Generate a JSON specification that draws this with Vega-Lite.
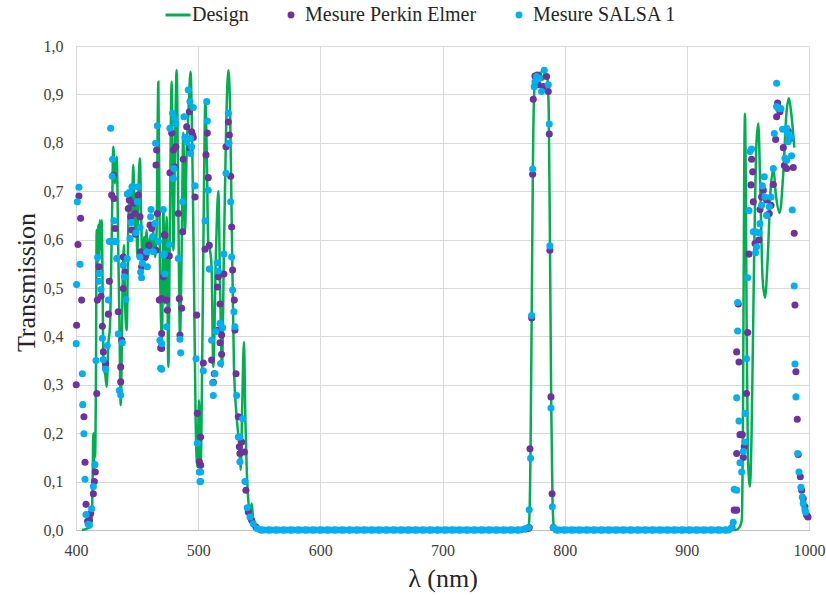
{
  "$schema": "https://vega.github.io/schema/vega-lite/v6.json",
  "autosize": {"type": "none"},
  "width": 733,
  "height": 484,
  "padding": {"left": 76, "top": 46, "right": 17, "bottom": 65},
  "background": "white",
  "config": {
    "font": "Liberation Serif",
    "view": {"stroke": null},
    "axis": {"labelFont": "Liberation Serif", "titleFont": "Liberation Serif", "labelColor": "#404040", "titleColor": "#262626", "gridColor": "#d9d9d9", "titleFontWeight": "normal"},
    "legend": {"labelFont": "Liberation Serif"}
  },
  "datasets": {
    "design": [
      {"x":405,"y":0,"s":"D"},{"x":409,"y":0.003,"s":"D"},{"x":411.5,"y":0.006,"s":"D"},{"x":413,"y":0.03,"s":"D"},{"x":413.6,"y":0.1,"s":"D"},{"x":414.2,"y":0.2,"s":"D"},{"x":414.7,"y":0.12,"s":"D"},{"x":415.2,"y":0.2,"s":"D"},{"x":415.6,"y":0.15,"s":"D"},{"x":416.4,"y":0.35,"s":"D"},{"x":416.9,"y":0.62,"s":"D"},{"x":417.6,"y":0.55,"s":"D"},{"x":418.3,"y":0.63,"s":"D"},{"x":419,"y":0.56,"s":"D"},{"x":419.6,"y":0.64,"s":"D"},{"x":420.3,"y":0.58,"s":"D"},{"x":421,"y":0.64,"s":"D"},{"x":421.8,"y":0.5,"s":"D"},{"x":422.4,"y":0.337,"s":"D"},{"x":424,"y":0.32,"s":"D"},{"x":425.1,"y":0.296,"s":"D"},{"x":426.5,"y":0.385,"s":"D"},{"x":427.8,"y":0.42,"s":"D"},{"x":429.2,"y":0.6,"s":"D"},{"x":430.6,"y":0.792,"s":"D"},{"x":431.9,"y":0.716,"s":"D"},{"x":433.3,"y":0.771,"s":"D"},{"x":434.6,"y":0.578,"s":"D"},{"x":435.5,"y":0.44,"s":"D"},{"x":436.6,"y":0.258,"s":"D"},{"x":438.2,"y":0.51,"s":"D"},{"x":439.3,"y":0.589,"s":"D"},{"x":440.1,"y":0.475,"s":"D"},{"x":441.5,"y":0.413,"s":"D"},{"x":442.8,"y":0.626,"s":"D"},{"x":444.2,"y":0.7,"s":"D"},{"x":445.6,"y":0.647,"s":"D"},{"x":446.9,"y":0.754,"s":"D"},{"x":448.3,"y":0.613,"s":"D"},{"x":449.1,"y":0.695,"s":"D"},{"x":450.2,"y":0.564,"s":"D"},{"x":451.3,"y":0.716,"s":"D"},{"x":452.4,"y":0.768,"s":"D"},{"x":453.2,"y":0.661,"s":"D"},{"x":454.6,"y":0.551,"s":"D"},{"x":455.7,"y":0.606,"s":"D"},{"x":456.7,"y":0.578,"s":"D"},{"x":457.8,"y":0.62,"s":"D"},{"x":459.2,"y":0.564,"s":"D"},{"x":460.6,"y":0.606,"s":"D"},{"x":461.9,"y":0.578,"s":"D"},{"x":463.3,"y":0.62,"s":"D"},{"x":464.7,"y":0.564,"s":"D"},{"x":466,"y":0.62,"s":"D"},{"x":467.4,"y":0.926,"s":"D"},{"x":468.7,"y":0.551,"s":"D"},{"x":469.5,"y":0.44,"s":"D"},{"x":470.4,"y":0.392,"s":"D"},{"x":471.5,"y":0.661,"s":"D"},{"x":472.8,"y":0.468,"s":"D"},{"x":474.2,"y":0.647,"s":"D"},{"x":475.6,"y":0.337,"s":"D"},{"x":476.9,"y":0.647,"s":"D"},{"x":478.3,"y":0.926,"s":"D"},{"x":479.7,"y":0.578,"s":"D"},{"x":481,"y":0.785,"s":"D"},{"x":482.4,"y":0.95,"s":"D"},{"x":483.8,"y":0.647,"s":"D"},{"x":485.1,"y":0.4,"s":"D"},{"x":486.5,"y":0.578,"s":"D"},{"x":487.8,"y":0.82,"s":"D"},{"x":489.2,"y":0.613,"s":"D"},{"x":490.6,"y":0.785,"s":"D"},{"x":491.9,"y":0.854,"s":"D"},{"x":493.8,"y":0.947,"s":"D"},{"x":495.2,"y":0.785,"s":"D"},{"x":496.6,"y":0.51,"s":"D"},{"x":497.9,"y":0.234,"s":"D"},{"x":499.3,"y":0.13,"s":"D"},{"x":500.7,"y":0.268,"s":"D"},{"x":502,"y":0.124,"s":"D"},{"x":503.4,"y":0.372,"s":"D"},{"x":504.8,"y":0.716,"s":"D"},{"x":505.9,"y":0.888,"s":"D"},{"x":507,"y":0.785,"s":"D"},{"x":508.3,"y":0.592,"s":"D"},{"x":509.7,"y":0.578,"s":"D"},{"x":511,"y":0.544,"s":"D"},{"x":512.4,"y":0.337,"s":"D"},{"x":514.6,"y":0.578,"s":"D"},{"x":516.5,"y":0.7,"s":"D"},{"x":517.9,"y":0.51,"s":"D"},{"x":519.5,"y":0.337,"s":"D"},{"x":521.1,"y":0.578,"s":"D"},{"x":522.8,"y":0.82,"s":"D"},{"x":524.7,"y":0.95,"s":"D"},{"x":526,"y":0.888,"s":"D"},{"x":527.4,"y":0.647,"s":"D"},{"x":529.3,"y":0.337,"s":"D"},{"x":531.5,"y":0.234,"s":"D"},{"x":533.7,"y":0.172,"s":"D"},{"x":534.8,"y":0.124,"s":"D"},{"x":536,"y":0.25,"s":"D"},{"x":537.5,"y":0.389,"s":"D"},{"x":538.6,"y":0.234,"s":"D"},{"x":539.7,"y":0.13,"s":"D"},{"x":541,"y":0.062,"s":"D"},{"x":542.4,"y":0.034,"s":"D"},{"x":543.8,"y":0.055,"s":"D"},{"x":545.1,"y":0.02,"s":"D"},{"x":547.9,"y":0.002,"s":"D"},{"x":550,"y":0,"s":"D"},
      {"x":770,"y":0,"s":"D"},{"x":771,"y":0.02,"s":"D"},{"x":772,"y":0.15,"s":"D"},{"x":773,"y":0.44,"s":"D"},{"x":774,"y":0.75,"s":"D"},{"x":775,"y":0.9,"s":"D"},{"x":776.5,"y":0.94,"s":"D"},{"x":778,"y":0.93,"s":"D"},{"x":780,"y":0.945,"s":"D"},{"x":782,"y":0.93,"s":"D"},{"x":784,"y":0.945,"s":"D"},{"x":786,"y":0.93,"s":"D"},{"x":787,"y":0.86,"s":"D"},{"x":788,"y":0.58,"s":"D"},{"x":789,"y":0.26,"s":"D"},{"x":790,"y":0.07,"s":"D"},{"x":791,"y":0.01,"s":"D"},{"x":792,"y":0,"s":"D"},
      {"x":940,"y":0,"s":"D"},{"x":943,"y":0.005,"s":"D"},{"x":945,"y":0.02,"s":"D"},{"x":946,"y":0.25,"s":"D"},{"x":947,"y":0.75,"s":"D"},{"x":947.6,"y":0.86,"s":"D"},{"x":948.3,"y":0.7,"s":"D"},{"x":949,"y":0.4,"s":"D"},{"x":950,"y":0.15,"s":"D"},{"x":951.7,"y":0.09,"s":"D"},{"x":953,"y":0.2,"s":"D"},{"x":955,"y":0.55,"s":"D"},{"x":957,"y":0.8,"s":"D"},{"x":958.5,"y":0.84,"s":"D"},{"x":960,"y":0.72,"s":"D"},{"x":962,"y":0.52,"s":"D"},{"x":964,"y":0.48,"s":"D"},{"x":966,"y":0.55,"s":"D"},{"x":968.5,"y":0.7,"s":"D"},{"x":970.8,"y":0.745,"s":"D"},{"x":973,"y":0.69,"s":"D"},{"x":976,"y":0.655,"s":"D"},{"x":979,"y":0.74,"s":"D"},{"x":981.5,"y":0.86,"s":"D"},{"x":983.6,"y":0.892,"s":"D"},{"x":985.5,"y":0.86,"s":"D"},{"x":988,"y":0.79,"s":"D"}
    ],
    "pts": [
      {"x":402.4,"y":0.69,"s":"P"},{"x":403.8,"y":0.644,"s":"P"},{"x":401.6,"y":0.59,"s":"P"},{"x":404.6,"y":0.475,"s":"P"},{"x":400.5,"y":0.423,"s":"P"},{"x":400.2,"y":0.3,"s":"P"},{"x":406.5,"y":0.234,"s":"P"},{"x":407.4,"y":0.14,"s":"P"},{"x":408.2,"y":0.053,"s":"P"},{"x":409.5,"y":0.018,"s":"P"},{"x":411,"y":0.02,"s":"P"},{"x":412,"y":0.034,"s":"P"},{"x":414.2,"y":0.075,"s":"P"},{"x":415,"y":0.1,"s":"P"},{"x":415.8,"y":0.12,"s":"P"},{"x":417,"y":0.282,"s":"P"},{"x":418.8,"y":0.544,"s":"P"},{"x":417.5,"y":0.475,"s":"P"},{"x":420.5,"y":0.483,"s":"P"},{"x":421.6,"y":0.421,"s":"P"},{"x":422.4,"y":0.368,"s":"P"},{"x":424.3,"y":0.344,"s":"P"},{"x":426.5,"y":0.446,"s":"P"},{"x":427.3,"y":0.514,"s":"P"},{"x":430.6,"y":0.733,"s":"P"},{"x":429.2,"y":0.692,"s":"P"},{"x":431.1,"y":0.685,"s":"P"},{"x":431.9,"y":0.623,"s":"P"},{"x":434.6,"y":0.451,"s":"P"},{"x":437.4,"y":0.392,"s":"P"},{"x":436.6,"y":0.337,"s":"P"},{"x":436.6,"y":0.306,"s":"P"},{"x":438.7,"y":0.564,"s":"P"},{"x":440.1,"y":0.533,"s":"P"},{"x":438.7,"y":0.499,"s":"P"},{"x":442.8,"y":0.664,"s":"P"},{"x":443.6,"y":0.682,"s":"P"},{"x":444.7,"y":0.647,"s":"P"},{"x":445.6,"y":0.62,"s":"P"},{"x":446.9,"y":0.675,"s":"P"},{"x":448.3,"y":0.654,"s":"P"},{"x":448.8,"y":0.611,"s":"P"},{"x":451,"y":0.692,"s":"P"},{"x":452.4,"y":0.647,"s":"P"},{"x":452.9,"y":0.575,"s":"P"},{"x":453.7,"y":0.544,"s":"P"},{"x":456.5,"y":0.563,"s":"P"},{"x":459.7,"y":0.588,"s":"P"},{"x":460.6,"y":0.63,"s":"P"},{"x":462,"y":0.623,"s":"P"},{"x":466.6,"y":0.654,"s":"P"},{"x":465.5,"y":0.578,"s":"P"},{"x":466,"y":0.785,"s":"P"},{"x":465.5,"y":0.754,"s":"P"},{"x":468.2,"y":0.475,"s":"P"},{"x":469.3,"y":0.376,"s":"P"},{"x":470.1,"y":0.406,"s":"P"},{"x":472.3,"y":0.61,"s":"P"},
      {"x":472.8,"y":0.609,"s":"P"},{"x":476.4,"y":0.566,"s":"P"},{"x":471.5,"y":0.523,"s":"P"},{"x":470.1,"y":0.478,"s":"P"},{"x":474.2,"y":0.475,"s":"P"},{"x":474.8,"y":0.454,"s":"P"},{"x":470.1,"y":0.375,"s":"P"},{"x":476.9,"y":0.738,"s":"P"},{"x":478.3,"y":0.82,"s":"P"},{"x":479.7,"y":0.785,"s":"P"},{"x":481,"y":0.75,"s":"P"},{"x":481.8,"y":0.792,"s":"P"},{"x":483.8,"y":0.654,"s":"P"},{"x":484.6,"y":0.478,"s":"P"},{"x":486.5,"y":0.458,"s":"P"},{"x":485.1,"y":0.403,"s":"P"},{"x":487.3,"y":0.616,"s":"P"},{"x":487.8,"y":0.766,"s":"P"},{"x":490,"y":0.809,"s":"P"},{"x":490.6,"y":0.833,"s":"P"},{"x":492.8,"y":0.864,"s":"P"},{"x":494.7,"y":0.823,"s":"P"},{"x":495.5,"y":0.816,"s":"P"},{"x":493.3,"y":0.788,"s":"P"},{"x":496,"y":0.811,"s":"P"},{"x":497.4,"y":0.688,"s":"P"},{"x":498.8,"y":0.444,"s":"P"},{"x":499.3,"y":0.241,"s":"P"},{"x":502,"y":0.192,"s":"P"},{"x":500.9,"y":0.141,"s":"P"},{"x":502,"y":0.134,"s":"P"},{"x":507.5,"y":0.82,"s":"P"},{"x":506.4,"y":0.775,"s":"P"},{"x":508.3,"y":0.728,"s":"P"},{"x":505.6,"y":0.58,"s":"P"},{"x":509.1,"y":0.588,"s":"P"},{"x":504.2,"y":0.345,"s":"P"},{"x":511,"y":0.351,"s":"P"},{"x":512.4,"y":0.305,"s":"P"},{"x":513.2,"y":0.323,"s":"P"},{"x":516.5,"y":0.523,"s":"P"},{"x":515.7,"y":0.502,"s":"P"},{"x":517.9,"y":0.467,"s":"P"},{"x":516.5,"y":0.413,"s":"P"},{"x":519.2,"y":0.403,"s":"P"},{"x":517.9,"y":0.387,"s":"P"},{"x":519.2,"y":0.363,"s":"P"},{"x":521.1,"y":0.529,"s":"P"},{"x":522.8,"y":0.792,"s":"P"},{"x":526.6,"y":0.731,"s":"P"},{"x":524.7,"y":0.843,"s":"P"},{"x":525.5,"y":0.816,"s":"P"},{"x":527.4,"y":0.626,"s":"P"},{"x":528.2,"y":0.537,"s":"P"},{"x":529.6,"y":0.475,"s":"P"},{"x":530.1,"y":0.413,"s":"P"},{"x":531,"y":0.323,"s":"P"},{"x":532.9,"y":0.234,"s":"P"},{"x":533.7,"y":0.172,"s":"P"},{"x":534.2,"y":0.158,"s":"P"},{"x":535.6,"y":0.182,"s":"P"},{"x":537.8,"y":0.161,"s":"P"},{"x":539.1,"y":0.082,"s":"P"},{"x":541,"y":0.037,"s":"P"},{"x":543.8,"y":0.02,"s":"P"},{"x":547.3,"y":0.006,"s":"P"},
      {"x":552,"y":0,"s":"P"},{"x":558,"y":0,"s":"P"},{"x":564,"y":0,"s":"P"},{"x":570,"y":0,"s":"P"},{"x":576,"y":0,"s":"P"},{"x":582,"y":0,"s":"P"},{"x":588,"y":0,"s":"P"},{"x":594,"y":0,"s":"P"},{"x":600,"y":0,"s":"P"},{"x":606,"y":0,"s":"P"},{"x":612,"y":0,"s":"P"},{"x":618,"y":0,"s":"P"},{"x":624,"y":0,"s":"P"},{"x":630,"y":0,"s":"P"},{"x":636,"y":0,"s":"P"},{"x":642,"y":0,"s":"P"},{"x":648,"y":0,"s":"P"},{"x":654,"y":0,"s":"P"},{"x":660,"y":0,"s":"P"},{"x":666,"y":0,"s":"P"},{"x":672,"y":0,"s":"P"},{"x":678,"y":0,"s":"P"},{"x":684,"y":0,"s":"P"},{"x":690,"y":0,"s":"P"},{"x":696,"y":0,"s":"P"},{"x":702,"y":0,"s":"P"},{"x":708,"y":0,"s":"P"},{"x":714,"y":0,"s":"P"},{"x":720,"y":0,"s":"P"},{"x":726,"y":0,"s":"P"},{"x":732,"y":0,"s":"P"},{"x":738,"y":0,"s":"P"},{"x":744,"y":0,"s":"P"},{"x":750,"y":0,"s":"P"},{"x":756,"y":0,"s":"P"},{"x":762,"y":0,"s":"P"},{"x":768,"y":0.002,"s":"P"},
      {"x":770.2,"y":0.003,"s":"P"},{"x":771,"y":0.005,"s":"P"},{"x":771.6,"y":0.168,"s":"P"},{"x":773,"y":0.438,"s":"P"},{"x":773.8,"y":0.735,"s":"P"},{"x":774.3,"y":0.89,"s":"P"},{"x":775.7,"y":0.938,"s":"P"},{"x":777.6,"y":0.94,"s":"P"},{"x":778.4,"y":0.92,"s":"P"},{"x":782.5,"y":0.916,"s":"P"},{"x":785.2,"y":0.937,"s":"P"},{"x":786.6,"y":0.906,"s":"P"},{"x":787.4,"y":0.818,"s":"P"},{"x":787.9,"y":0.578,"s":"P"},{"x":788.8,"y":0.275,"s":"P"},{"x":789.7,"y":0.075,"s":"P"},{"x":790.7,"y":0.005,"s":"P"},
      {"x":794,"y":0,"s":"P"},{"x":800,"y":0,"s":"P"},{"x":806,"y":0,"s":"P"},{"x":812,"y":0,"s":"P"},{"x":818,"y":0,"s":"P"},{"x":824,"y":0,"s":"P"},{"x":830,"y":0,"s":"P"},{"x":836,"y":0,"s":"P"},{"x":842,"y":0,"s":"P"},{"x":848,"y":0,"s":"P"},{"x":854,"y":0,"s":"P"},{"x":860,"y":0,"s":"P"},{"x":866,"y":0,"s":"P"},{"x":872,"y":0,"s":"P"},{"x":878,"y":0,"s":"P"},{"x":884,"y":0,"s":"P"},{"x":890,"y":0,"s":"P"},{"x":896,"y":0,"s":"P"},{"x":902,"y":0,"s":"P"},{"x":908,"y":0,"s":"P"},{"x":914,"y":0,"s":"P"},{"x":920,"y":0,"s":"P"},{"x":926,"y":0,"s":"P"},{"x":932,"y":0,"s":"P"},{"x":937,"y":0.005,"s":"P"},
      {"x":940.8,"y":0.368,"s":"P"},{"x":942.7,"y":0.347,"s":"P"},{"x":943.5,"y":0.197,"s":"P"},{"x":945.4,"y":0.197,"s":"P"},{"x":940.8,"y":0.158,"s":"P"},{"x":940.8,"y":0.041,"s":"P"},{"x":938.8,"y":0.041,"s":"P"},{"x":942.1,"y":0.467,"s":"P"},{"x":946.2,"y":0.15,"s":"P"},{"x":947,"y":0.172,"s":"P"},{"x":948.9,"y":0.282,"s":"P"},{"x":949.8,"y":0.408,"s":"P"},{"x":950.9,"y":0.57,"s":"P"},{"x":952.5,"y":0.713,"s":"P"},{"x":953,"y":0.766,"s":"P"},{"x":953.9,"y":0.74,"s":"P"},{"x":954.4,"y":0.678,"s":"P"},{"x":955.8,"y":0.592,"s":"P"},{"x":959,"y":0.599,"s":"P"},{"x":959.9,"y":0.662,"s":"P"},{"x":961.2,"y":0.688,"s":"P"},{"x":962.6,"y":0.702,"s":"P"},{"x":965.3,"y":0.682,"s":"P"},{"x":967.5,"y":0.654,"s":"P"},{"x":968.9,"y":0.671,"s":"P"},{"x":970.8,"y":0.714,"s":"P"},{"x":972.7,"y":0.807,"s":"P"},{"x":973.5,"y":0.854,"s":"P"},{"x":974.3,"y":0.882,"s":"P"},{"x":976.2,"y":0.864,"s":"P"},{"x":979,"y":0.79,"s":"P"},{"x":979.8,"y":0.753,"s":"P"},{"x":983,"y":0.824,"s":"P"},{"x":984.4,"y":0.809,"s":"P"},{"x":987.1,"y":0.749,"s":"P"},{"x":981.7,"y":0.747,"s":"P"},{"x":987.9,"y":0.613,"s":"P"},{"x":988.5,"y":0.465,"s":"P"},{"x":989.3,"y":0.327,"s":"P"},{"x":990.4,"y":0.229,"s":"P"},{"x":991.2,"y":0.156,"s":"P"},{"x":992.9,"y":0.11,"s":"P"},{"x":994,"y":0.082,"s":"P"},{"x":995.3,"y":0.065,"s":"P"},{"x":996.7,"y":0.048,"s":"P"},{"x":998,"y":0.031,"s":"P"},{"x":999.2,"y":0.027,"s":"P"},
      {"x":402.4,"y":0.708,"s":"B"},{"x":401.1,"y":0.678,"s":"B"},{"x":403.3,"y":0.549,"s":"B"},{"x":400.5,"y":0.507,"s":"B"},{"x":400.2,"y":0.385,"s":"B"},{"x":405.2,"y":0.323,"s":"B"},{"x":405.5,"y":0.259,"s":"B"},{"x":406.5,"y":0.199,"s":"B"},{"x":407.4,"y":0.105,"s":"B"},{"x":408.2,"y":0.032,"s":"B"},{"x":410,"y":0.012,"s":"B"},{"x":411,"y":0.01,"s":"B"},{"x":412.8,"y":0.044,"s":"B"},{"x":414.2,"y":0.09,"s":"B"},{"x":415.5,"y":0.135,"s":"B"},{"x":416.4,"y":0.35,"s":"B"},{"x":417.7,"y":0.563,"s":"B"},{"x":419.1,"y":0.53,"s":"B"},{"x":418.8,"y":0.514,"s":"B"},{"x":420.5,"y":0.497,"s":"B"},{"x":421.6,"y":0.396,"s":"B"},{"x":422.4,"y":0.352,"s":"B"},{"x":424.3,"y":0.332,"s":"B"},{"x":425.6,"y":0.381,"s":"B"},{"x":426.5,"y":0.475,"s":"B"},{"x":427.3,"y":0.596,"s":"B"},{"x":428.4,"y":0.83,"s":"B"},{"x":430,"y":0.766,"s":"B"},{"x":429.7,"y":0.731,"s":"B"},{"x":431.1,"y":0.639,"s":"B"},{"x":430.6,"y":0.596,"s":"B"},{"x":432.7,"y":0.596,"s":"B"},{"x":433.3,"y":0.561,"s":"B"},{"x":434.6,"y":0.405,"s":"B"},{"x":437.9,"y":0.387,"s":"B"},{"x":435.5,"y":0.288,"s":"B"},{"x":436.6,"y":0.279,"s":"B"},{"x":438.7,"y":0.547,"s":"B"},{"x":440.9,"y":0.476,"s":"B"},{"x":439.6,"y":0.523,"s":"B"},{"x":442,"y":0.561,"s":"B"},{"x":442,"y":0.694,"s":"B"},{"x":443.6,"y":0.697,"s":"B"},{"x":445,"y":0.635,"s":"B"},{"x":444.2,"y":0.602,"s":"B"},{"x":445.8,"y":0.709,"s":"B"},{"x":446.9,"y":0.709,"s":"B"},{"x":449.1,"y":0.614,"s":"B"},{"x":450.2,"y":0.678,"s":"B"},{"x":451,"y":0.709,"s":"B"},{"x":452.4,"y":0.625,"s":"B"},{"x":452.4,"y":0.564,"s":"B"},{"x":454.3,"y":0.551,"s":"B"},{"x":452.9,"y":0.533,"s":"B"},{"x":453.7,"y":0.521,"s":"B"},{"x":457.8,"y":0.575,"s":"B"},{"x":458.4,"y":0.544,"s":"B"},{"x":461.4,"y":0.662,"s":"B"},{"x":461.1,"y":0.647,"s":"B"},{"x":462.8,"y":0.606,"s":"B"},{"x":464.7,"y":0.633,"s":"B"},{"x":463.3,"y":0.575,"s":"B"},{"x":467.4,"y":0.596,"s":"B"},{"x":466.6,"y":0.835,"s":"B"},{"x":465.2,"y":0.799,"s":"B"},{"x":468.7,"y":0.392,"s":"B"},{"x":469.3,"y":0.334,"s":"B"},{"x":471.5,"y":0.662,"s":"B"},{"x":472.3,"y":0.57,"s":"B"},
      {"x":471.5,"y":0.568,"s":"B"},{"x":476.4,"y":0.59,"s":"B"},{"x":472.8,"y":0.529,"s":"B"},{"x":474.2,"y":0.42,"s":"B"},{"x":470.1,"y":0.385,"s":"B"},{"x":470.1,"y":0.332,"s":"B"},{"x":476.9,"y":0.83,"s":"B"},{"x":479.1,"y":0.861,"s":"B"},{"x":481,"y":0.85,"s":"B"},{"x":479.7,"y":0.726,"s":"B"},{"x":480.2,"y":0.747,"s":"B"},{"x":481.8,"y":0.84,"s":"B"},{"x":483.8,"y":0.561,"s":"B"},{"x":485.1,"y":0.394,"s":"B"},{"x":485.7,"y":0.366,"s":"B"},{"x":487.3,"y":0.678,"s":"B"},{"x":488.4,"y":0.854,"s":"B"},{"x":489.2,"y":0.811,"s":"B"},{"x":490.6,"y":0.802,"s":"B"},{"x":491.9,"y":0.909,"s":"B"},{"x":493.3,"y":0.885,"s":"B"},{"x":496,"y":0.873,"s":"B"},{"x":493.8,"y":0.809,"s":"B"},{"x":494.7,"y":0.792,"s":"B"},{"x":493.8,"y":0.778,"s":"B"},{"x":497.4,"y":0.711,"s":"B"},{"x":498.2,"y":0.354,"s":"B"},{"x":499.3,"y":0.179,"s":"B"},{"x":500.9,"y":0.12,"s":"B"},{"x":502,"y":0.12,"s":"B"},{"x":502,"y":0.1,"s":"B"},{"x":501.5,"y":0.1,"s":"B"},{"x":507,"y":0.885,"s":"B"},{"x":507.5,"y":0.845,"s":"B"},{"x":508.3,"y":0.702,"s":"B"},{"x":505.6,"y":0.639,"s":"B"},{"x":509.1,"y":0.539,"s":"B"},{"x":504.2,"y":0.329,"s":"B"},{"x":511,"y":0.392,"s":"B"},{"x":511.9,"y":0.304,"s":"B"},{"x":512.4,"y":0.278,"s":"B"},{"x":513.8,"y":0.323,"s":"B"},{"x":515.7,"y":0.552,"s":"B"},{"x":516.5,"y":0.535,"s":"B"},{"x":514.6,"y":0.41,"s":"B"},{"x":517.9,"y":0.427,"s":"B"},{"x":520,"y":0.418,"s":"B"},{"x":518.4,"y":0.344,"s":"B"},{"x":521.1,"y":0.57,"s":"B"},{"x":522.8,"y":0.737,"s":"B"},{"x":526.6,"y":0.678,"s":"B"},{"x":524.7,"y":0.861,"s":"B"},{"x":525.2,"y":0.799,"s":"B"},{"x":527.4,"y":0.564,"s":"B"},{"x":528.2,"y":0.496,"s":"B"},{"x":529.3,"y":0.451,"s":"B"},{"x":530.1,"y":0.42,"s":"B"},{"x":531.5,"y":0.278,"s":"B"},{"x":532.9,"y":0.192,"s":"B"},{"x":534.2,"y":0.141,"s":"B"},{"x":536.4,"y":0.23,"s":"B"},{"x":534.2,"y":0.192,"s":"B"},{"x":538.3,"y":0.1,"s":"B"},{"x":540.2,"y":0.046,"s":"B"},{"x":542.4,"y":0.027,"s":"B"},{"x":545.1,"y":0.013,"s":"B"},{"x":548.4,"y":0.003,"s":"B"},
      {"x":551,"y":0,"s":"B"},{"x":554,"y":0,"s":"B"},{"x":557,"y":0,"s":"B"},{"x":560,"y":0,"s":"B"},{"x":563,"y":0,"s":"B"},{"x":566,"y":0,"s":"B"},{"x":569,"y":0,"s":"B"},{"x":572,"y":0,"s":"B"},{"x":575,"y":0,"s":"B"},{"x":578,"y":0,"s":"B"},{"x":581,"y":0,"s":"B"},{"x":584,"y":0,"s":"B"},{"x":587,"y":0,"s":"B"},{"x":590,"y":0,"s":"B"},{"x":593,"y":0,"s":"B"},{"x":596,"y":0,"s":"B"},{"x":599,"y":0,"s":"B"},{"x":602,"y":0,"s":"B"},{"x":605,"y":0,"s":"B"},{"x":608,"y":0,"s":"B"},{"x":611,"y":0,"s":"B"},{"x":614,"y":0,"s":"B"},{"x":617,"y":0,"s":"B"},{"x":620,"y":0,"s":"B"},{"x":623,"y":0,"s":"B"},{"x":626,"y":0,"s":"B"},{"x":629,"y":0,"s":"B"},{"x":632,"y":0,"s":"B"},{"x":635,"y":0,"s":"B"},{"x":638,"y":0,"s":"B"},{"x":641,"y":0,"s":"B"},{"x":644,"y":0,"s":"B"},{"x":647,"y":0,"s":"B"},{"x":650,"y":0,"s":"B"},{"x":653,"y":0,"s":"B"},{"x":656,"y":0,"s":"B"},{"x":659,"y":0,"s":"B"},{"x":662,"y":0,"s":"B"},{"x":665,"y":0,"s":"B"},{"x":668,"y":0,"s":"B"},{"x":671,"y":0,"s":"B"},{"x":674,"y":0,"s":"B"},{"x":677,"y":0,"s":"B"},{"x":680,"y":0,"s":"B"},{"x":683,"y":0,"s":"B"},{"x":686,"y":0,"s":"B"},{"x":689,"y":0,"s":"B"},{"x":692,"y":0,"s":"B"},{"x":695,"y":0,"s":"B"},{"x":698,"y":0,"s":"B"},{"x":701,"y":0,"s":"B"},{"x":704,"y":0,"s":"B"},{"x":707,"y":0,"s":"B"},{"x":710,"y":0,"s":"B"},{"x":713,"y":0,"s":"B"},{"x":716,"y":0,"s":"B"},{"x":719,"y":0,"s":"B"},{"x":722,"y":0,"s":"B"},{"x":725,"y":0,"s":"B"},{"x":728,"y":0,"s":"B"},{"x":731,"y":0,"s":"B"},{"x":734,"y":0,"s":"B"},{"x":737,"y":0,"s":"B"},{"x":740,"y":0,"s":"B"},{"x":743,"y":0,"s":"B"},{"x":746,"y":0,"s":"B"},{"x":749,"y":0,"s":"B"},{"x":752,"y":0,"s":"B"},{"x":755,"y":0,"s":"B"},{"x":758,"y":0,"s":"B"},{"x":761,"y":0,"s":"B"},{"x":764,"y":0,"s":"B"},{"x":767,"y":0.002,"s":"B"},
      {"x":770.2,"y":0.005,"s":"B"},{"x":771,"y":0.042,"s":"B"},{"x":772.1,"y":0.148,"s":"B"},{"x":773,"y":0.443,"s":"B"},{"x":773.8,"y":0.746,"s":"B"},{"x":775.1,"y":0.916,"s":"B"},{"x":775.7,"y":0.926,"s":"B"},{"x":777,"y":0.937,"s":"B"},{"x":779.2,"y":0.933,"s":"B"},{"x":781.1,"y":0.906,"s":"B"},{"x":783.3,"y":0.95,"s":"B"},{"x":786.6,"y":0.92,"s":"B"},{"x":787.4,"y":0.839,"s":"B"},{"x":787.9,"y":0.587,"s":"B"},{"x":788.8,"y":0.252,"s":"B"},{"x":789.9,"y":0.048,"s":"B"},{"x":790.7,"y":0.005,"s":"B"},
      {"x":793,"y":0,"s":"B"},{"x":796,"y":0,"s":"B"},{"x":799,"y":0,"s":"B"},{"x":802,"y":0,"s":"B"},{"x":805,"y":0,"s":"B"},{"x":808,"y":0,"s":"B"},{"x":811,"y":0,"s":"B"},{"x":814,"y":0,"s":"B"},{"x":817,"y":0,"s":"B"},{"x":820,"y":0,"s":"B"},{"x":823,"y":0,"s":"B"},{"x":826,"y":0,"s":"B"},{"x":829,"y":0,"s":"B"},{"x":832,"y":0,"s":"B"},{"x":835,"y":0,"s":"B"},{"x":838,"y":0,"s":"B"},{"x":841,"y":0,"s":"B"},{"x":844,"y":0,"s":"B"},{"x":847,"y":0,"s":"B"},{"x":850,"y":0,"s":"B"},{"x":853,"y":0,"s":"B"},{"x":856,"y":0,"s":"B"},{"x":859,"y":0,"s":"B"},{"x":862,"y":0,"s":"B"},{"x":865,"y":0,"s":"B"},{"x":868,"y":0,"s":"B"},{"x":871,"y":0,"s":"B"},{"x":874,"y":0,"s":"B"},{"x":877,"y":0,"s":"B"},{"x":880,"y":0,"s":"B"},{"x":883,"y":0,"s":"B"},{"x":886,"y":0,"s":"B"},{"x":889,"y":0,"s":"B"},{"x":892,"y":0,"s":"B"},{"x":895,"y":0,"s":"B"},{"x":898,"y":0,"s":"B"},{"x":901,"y":0,"s":"B"},{"x":904,"y":0,"s":"B"},{"x":907,"y":0,"s":"B"},{"x":910,"y":0,"s":"B"},{"x":913,"y":0,"s":"B"},{"x":916,"y":0,"s":"B"},{"x":919,"y":0,"s":"B"},{"x":922,"y":0,"s":"B"},{"x":925,"y":0,"s":"B"},{"x":928,"y":0,"s":"B"},{"x":931,"y":0,"s":"B"},{"x":934,"y":0,"s":"B"},{"x":936.5,"y":0.004,"s":"B"},
      {"x":941.6,"y":0.47,"s":"B"},{"x":941.6,"y":0.411,"s":"B"},{"x":940.8,"y":0.273,"s":"B"},{"x":942.7,"y":0.225,"s":"B"},{"x":943.5,"y":0.139,"s":"B"},{"x":944.9,"y":0.12,"s":"B"},{"x":940.8,"y":0.082,"s":"B"},{"x":938,"y":0.016,"s":"B"},{"x":938.8,"y":0.084,"s":"B"},{"x":946.2,"y":0.162,"s":"B"},{"x":947.8,"y":0.241,"s":"B"},{"x":947.6,"y":0.182,"s":"B"},{"x":948.9,"y":0.354,"s":"B"},{"x":949.8,"y":0.521,"s":"B"},{"x":950.9,"y":0.66,"s":"B"},{"x":951.7,"y":0.782,"s":"B"},{"x":953,"y":0.787,"s":"B"},{"x":954.4,"y":0.616,"s":"B"},{"x":956.3,"y":0.616,"s":"B"},{"x":957.1,"y":0.585,"s":"B"},{"x":956.3,"y":0.573,"s":"B"},{"x":959,"y":0.614,"s":"B"},{"x":959.9,"y":0.633,"s":"B"},{"x":961.2,"y":0.671,"s":"B"},{"x":961.8,"y":0.711,"s":"B"},{"x":963.4,"y":0.73,"s":"B"},{"x":963.9,"y":0.688,"s":"B"},{"x":965.3,"y":0.65,"s":"B"},{"x":967.5,"y":0.668,"s":"B"},{"x":968.9,"y":0.688,"s":"B"},{"x":970.8,"y":0.747,"s":"B"},{"x":971.6,"y":0.819,"s":"B"},{"x":973.5,"y":0.923,"s":"B"},{"x":973.5,"y":0.875,"s":"B"},{"x":974.9,"y":0.871,"s":"B"},{"x":977,"y":0.871,"s":"B"},{"x":978.4,"y":0.828,"s":"B"},{"x":981.7,"y":0.83,"s":"B"},{"x":980.3,"y":0.768,"s":"B"},{"x":982.5,"y":0.819,"s":"B"},{"x":983,"y":0.802,"s":"B"},{"x":985.2,"y":0.812,"s":"B"},{"x":985.7,"y":0.773,"s":"B"},{"x":981.7,"y":0.764,"s":"B"},{"x":986.3,"y":0.661,"s":"B"},{"x":987.9,"y":0.504,"s":"B"},{"x":988.5,"y":0.343,"s":"B"},{"x":989.3,"y":0.275,"s":"B"},{"x":990.7,"y":0.158,"s":"B"},{"x":991.8,"y":0.12,"s":"B"},{"x":993.4,"y":0.088,"s":"B"},{"x":994.5,"y":0.068,"s":"B"},{"x":995.3,"y":0.055,"s":"B"},{"x":996.7,"y":0.042,"s":"B"},{"x":997.2,"y":0.037,"s":"B"}
    ]
  },
  "encoding": {
    "x": {"field": "x", "type": "quantitative", "scale": {"domain": [400, 1000], "nice": false},
      "axis": {"values": [400, 500, 600, 700, 800, 900, 1000], "format": "d", "labelFlush": false, "labelFont": "Liberation Serif", "grid": true, "domainColor": "#bfbfbf", "ticks": false, "labelPadding": 12, "labelFontSize": 16, "title": "λ (nm)", "titleFont": "Liberation Serif", "titleFontSize": 26, "titleY": 48, "titleBaseline": "middle"}},
    "y": {"field": "y", "type": "quantitative", "scale": {"domain": [0, 1], "nice": false},
      "axis": {"values": [0, 0.1, 0.2, 0.3, 0.4, 0.5, 0.6, 0.7, 0.8, 0.9, 1.0], "labelExpr": "replace(format(datum.value, '.1f'), '.', ',')", "labelFont": "Liberation Serif", "labelFlush": false, "domain": false, "ticks": false, "labelPadding": 13, "labelFontSize": 16, "title": "Transmission", "titleFont": "Liberation Serif", "titleFontSize": 26, "titleX": -50, "titleY": 236, "titleAngle": -90, "titleAlign": "center", "titleBaseline": "middle"}},
    "color": {"field": "s", "type": "nominal",
      "scale": {"domain": ["D", "P", "B"], "range": ["#00b050", "#7030a0", "#00b0f0"]},
      "legend": {"orient": "none", "legendX": 92, "legendY": -41, "direction": "horizontal", "title": null,
        "labelFont": "Liberation Serif", "labelFontSize": 20, "labelColor": "#262626", "labelLimit": 400, "symbolSize": 625, "labelOffset": 4, "columnPadding": 32,
        "labelExpr": "datum.label === 'D' ? 'Design' : datum.label === 'P' ? 'Mesure Perkin Elmer' : 'Mesure SALSA 1'",
        "encode": {"symbols": {"update": {
          "shape": {"signal": "datum.value === 'D' ? 'stroke' : 'circle'"},
          "size": {"signal": "datum.value === 'D' ? 625 : 48"},
          "strokeWidth": {"signal": "datum.value === 'D' ? 3 : 0"},
          "stroke": {"signal": "datum.value === 'D' ? '#00b050' : 'transparent'"},
          "fill": {"signal": "datum.value === 'P' ? '#7030a0' : datum.value === 'B' ? '#00b0f0' : 'transparent'"},
          "opacity": {"value": 1}
        }}, "labels": {"update": {"font": {"value": "Liberation Serif"}}}}}
    }
  },
  "layer": [
    {"data": {"name": "design"}, "mark": {"type": "line", "interpolate": "monotone", "strokeWidth": 2.5}},
    {"data": {"name": "pts"}, "mark": {"type": "circle", "size": 50, "opacity": 1}}
  ]
}
